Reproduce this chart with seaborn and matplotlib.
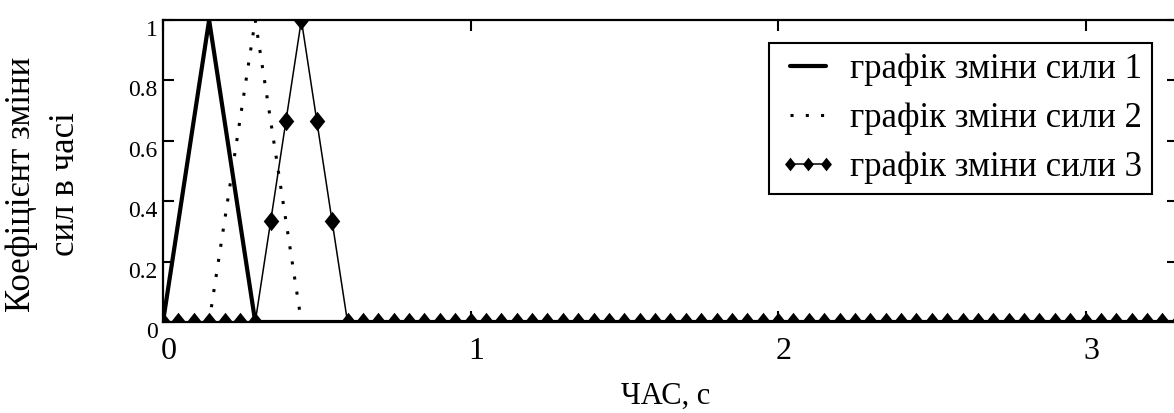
import numpy as np
import pandas as pd
import matplotlib
matplotlib.use("Agg")
import matplotlib.pyplot as plt
import seaborn as sns
from matplotlib.transforms import ScaledTranslation

time_s = [0.00, 0.05, 0.10, 0.15, 0.20, 0.25, 0.30, 0.35, 0.40, 0.45,
          0.50, 0.55, 0.60, 0.65, 0.70, 0.75, 0.80, 0.85, 0.90, 0.95,
          1.00, 1.05, 1.10, 1.15, 1.20, 1.25, 1.30, 1.35, 1.40, 1.45,
          1.50, 1.55, 1.60, 1.65, 1.70, 1.75, 1.80, 1.85, 1.90, 1.95,
          2.00, 2.05, 2.10, 2.15, 2.20, 2.25, 2.30, 2.35, 2.40, 2.45,
          2.50, 2.55, 2.60, 2.65, 2.70, 2.75, 2.80, 2.85, 2.90, 2.95,
          3.00, 3.05, 3.10, 3.15, 3.20, 3.25, 3.30]
force1 = [0, 0.333, 0.667, 1, 0.667, 0.333, 0, 0, 0, 0,
          0, 0, 0, 0, 0, 0, 0, 0, 0, 0,
          0, 0, 0, 0, 0, 0, 0, 0, 0, 0,
          0, 0, 0, 0, 0, 0, 0, 0, 0, 0,
          0, 0, 0, 0, 0, 0, 0, 0, 0, 0,
          0, 0, 0, 0, 0, 0, 0, 0, 0, 0,
          0, 0, 0, 0, 0, 0, 0]
force2 = [0, 0, 0, 0, 0.333, 0.667, 1, 0.667, 0.333, 0,
          0, 0, 0, 0, 0, 0, 0, 0, 0, 0,
          0, 0, 0, 0, 0, 0, 0, 0, 0, 0,
          0, 0, 0, 0, 0, 0, 0, 0, 0, 0,
          0, 0, 0, 0, 0, 0, 0, 0, 0, 0,
          0, 0, 0, 0, 0, 0, 0, 0, 0, 0,
          0, 0, 0, 0, 0, 0, 0]
force3 = [0, 0, 0, 0, 0, 0, 0, 0.333, 0.667, 1,
          0.667, 0.333, 0, 0, 0, 0, 0, 0, 0, 0,
          0, 0, 0, 0, 0, 0, 0, 0, 0, 0,
          0, 0, 0, 0, 0, 0, 0, 0, 0, 0,
          0, 0, 0, 0, 0, 0, 0, 0, 0, 0,
          0, 0, 0, 0, 0, 0, 0, 0, 0, 0,
          0, 0, 0, 0, 0, 0, 0]
labels = ["графік зміни сили 1", "графік зміни сили 2", "графік зміни сили 3"]
x_ticks = [0, 1, 2, 3]
y_ticks = [0, 0.2, 0.4, 0.6, 0.8, 1]
y_tick_labels = ["0", "0.2", "0.4", "0.6", "0.8", "1"]
x_label = "ЧАС, с"
y_label_1 = "Коефіцієнт зміни"
y_label_2 = "сил в часі"

df = pd.DataFrame({"t": time_s, "f1": force1, "f2": force2, "f3": force3})

sns.set_theme(style="white")
plt.rcParams["font.family"] = ["Liberation Serif", "DejaVu Serif"]

W, H = 1174, 413
fig = plt.figure(figsize=(W / 100, H / 100), dpi=100)
left, right, top, bottom = 163, 1177.75, 20, 322
ax = fig.add_axes([left / W, 1 - bottom / H, (right - left) / W, (bottom - top) / H])

diamond = [(0, 1), (0.8, 0), (0, -1), (-0.8, 0), (0, 1)]

sns.lineplot(data=df, x="t", y="f1", ax=ax, color="black", linewidth=3.0,
             label=labels[0], estimator=None)
sns.lineplot(data=df, x="t", y="f2", ax=ax, color="black", linewidth=2.2,
             linestyle=(0, (1, 4)), dash_capstyle="butt", label=labels[1], estimator=None)
sns.lineplot(data=df, x="t", y="f3", ax=ax, color="black", linewidth=1.1,
             marker=diamond, markersize=14, markeredgewidth=0,
             markerfacecolor="black", label=labels[2], estimator=None)

ax.set_xlim(0, 3.3)
ax.set_ylim(0, 1)
ax.set_xlabel("")
ax.set_ylabel("")
ax.set_xticks(x_ticks)
ax.set_xticklabels([str(v) for v in x_ticks])
ax.set_yticks(y_ticks)
ax.set_yticklabels(y_tick_labels)

for s in ax.spines.values():
    s.set_visible(True)
    s.set_color("black")
    s.set_linewidth(1.6)

ax.tick_params(axis="both", which="both", direction="in", length=8, width=1.5,
               color="black", top=True, right=True, bottom=True, left=True)
ax.tick_params(axis="y", labelsize=17, pad=4, labelcolor="black")
ax.tick_params(axis="x", labelsize=23, pad=11, labelcolor="black")

for lab in ax.get_yticklabels():
    lab.set_transform(lab.get_transform() + ScaledTranslation(0, -8 / 100, fig.dpi_scale_trans))
for lab in ax.get_xticklabels():
    lab.set_transform(lab.get_transform() + ScaledTranslation(6 / 100, 0, fig.dpi_scale_trans))

leg = ax.legend(loc="upper left", bbox_to_anchor=(769 / W, 1 - 43 / H),
                bbox_transform=fig.transFigure, borderaxespad=0,
                fontsize=25, frameon=True, fancybox=False, shadow=False,
                edgecolor="black", framealpha=1, borderpad=0.3,
                labelspacing=0.45, handlelength=1.65, handletextpad=0.38,
                numpoints=3, markerscale=0.7)
leg.get_frame().set_linewidth(1.5)
for t in leg.get_texts():
    t.set_color("black")

fig.text(666 / W, 1 - 404 / H, x_label, fontsize=22, ha="center", va="baseline", color="black")
fig.text(22 / W, 1 - 184 / H, y_label_1, fontsize=25, rotation=90, ha="center", va="center", color="black")
fig.text(66 / W, 1 - 184 / H, y_label_2, fontsize=25, rotation=90, ha="center", va="center", color="black")

fig.savefig("out.png", dpi=100)
